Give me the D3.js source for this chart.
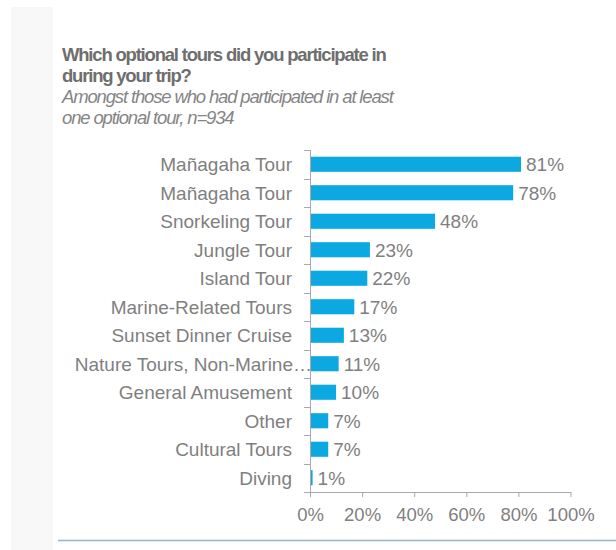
<!DOCTYPE html>
<html>
<head>
<meta charset="utf-8">
<script src="https://cdn.jsdelivr.net/npm/d3@7"></script>
<style>
  html, body { margin: 0; padding: 0; background: #ffffff; }
  svg { display: block; font-family: "Liberation Sans", Arial, sans-serif; }
</style>
</head>
<body>
<svg id="chart" width="616" height="550"></svg>
<script>
// Survey results: share of respondents per optional tour
const categories = [
  "Mañagaha Tour", "Mañagaha Tour", "Snorkeling Tour", "Jungle Tour", "Island Tour",
  "Marine-Related Tours", "Sunset Dinner Cruise", "Nature Tours, Non-Marine…",
  "General Amusement", "Other", "Cultural Tours", "Diving"
];
const values = [81, 78, 48, 23, 22, 17, 13, 11, 10, 7, 7, 1];
const xTicks = [0, 20, 40, 60, 80, 100];

const titleLines = ["Which optional tours did you participate in", "during your trip?"];
const subtitleLines = ["Amongst those who had participated in at least", "one optional tour, n=934"];

const svg = d3.select("#chart");
const textColor = "#7f7f7f";
const barColor = "#0ca8e2";
const axisColor = "#a9a9a9";

// light side panel
svg.append("rect").attr("x", 11).attr("y", 7).attr("width", 42).attr("height", 543)
  .attr("fill", "#f8f8f8");

// title and subtitle (tightly set)
svg.selectAll("text.title").data(titleLines).join("text")
  .attr("class", "title")
  .attr("x", 62).attr("y", (d, i) => 61 + i * 21)
  .attr("font-size", 18.5).attr("font-weight", "bold")
  .attr("letter-spacing", -1.2)
  .attr("fill", "#6e6e6e")
  .text(d => d);

svg.selectAll("text.subtitle").data(subtitleLines).join("text")
  .attr("class", "subtitle")
  .attr("x", 62).attr("y", (d, i) => 103 + i * 21)
  .attr("font-size", 18.5).attr("font-style", "italic")
  .attr("letter-spacing", -1.15)
  .attr("fill", "#858585")
  .text(d => d);

// scales
const x = d3.scaleLinear().domain([0, 100]).range([310, 570.5]);
const y = d3.scaleBand().domain(d3.range(categories.length)).range([150, 492]).paddingInner(0.47).paddingOuter(0.235);
const band = d3.scaleBand().domain(d3.range(categories.length)).range([150, 492]);

// bars
svg.selectAll("rect.bar").data(values).join("rect")
  .attr("class", "bar")
  .attr("x", x(0))
  .attr("y", (d, i) => y(i))
  .attr("width", d => x(d) - x(0))
  .attr("height", y.bandwidth())
  .attr("fill", barColor);

// value labels
svg.selectAll("text.val").data(values).join("text")
  .attr("class", "val")
  .attr("x", d => x(d) + 5)
  .attr("y", (d, i) => y(i) + y.bandwidth() / 2)
  .attr("dy", "0.36em")
  .attr("font-size", 19)
  .attr("fill", textColor)
  .text(d => d + "%");

// category labels
const catLabels = svg.selectAll("text.cat").data(categories).join("text")
  .attr("class", "cat")
  .attr("x", 292)
  .attr("y", (d, i) => y(i) + y.bandwidth() / 2)
  .attr("dy", "0.36em")
  .attr("text-anchor", "end")
  .attr("font-size", 19)
  .attr("fill", textColor)
  .text(d => d);

// truncated labels overhang with their ellipsis
catLabels.each(function(d) {
  if (d.endsWith("…")) {
    const tmp = svg.append("text").attr("font-size", 19).text("…");
    const w = tmp.node().getComputedTextLength();
    tmp.remove();
    d3.select(this).attr("x", 292 + w + 1);
  }
});

// vertical axis with band-boundary ticks
const yAxis = svg.append("g").attr("stroke", axisColor).attr("stroke-width", 1);
yAxis.append("line").attr("x1", x(0) + 0.5).attr("x2", x(0) + 0.5).attr("y1", 150).attr("y2", 492);
yAxis.selectAll("line.tk").data(d3.range(categories.length + 1)).join("line")
  .attr("class", "tk")
  .attr("x1", x(0) - 6).attr("x2", x(0))
  .attr("y1", i => Math.round(150 + i * band.step()) + 0.5)
  .attr("y2", i => Math.round(150 + i * band.step()) + 0.5);

// horizontal axis
const xAxis = svg.append("g").attr("transform", "translate(0,492)")
  .call(d3.axisBottom(x).tickValues(xTicks).tickFormat(d => d + "%").tickSize(5).tickSizeOuter(0));
xAxis.select(".domain").attr("stroke", axisColor);
xAxis.selectAll(".tick line").attr("stroke", axisColor);
xAxis.selectAll(".tick text").attr("font-size", 18.5).attr("fill", textColor)
  .attr("font-family", "Liberation Sans, Arial, sans-serif").attr("dy", "1.15em");

// bottom rule
svg.append("line").attr("x1", 58).attr("x2", 616).attr("y1", 540.5).attr("y2", 540.5)
  .attr("stroke", "#8fb9cd").attr("stroke-width", 1.5);
</script>
</body>
</html>
